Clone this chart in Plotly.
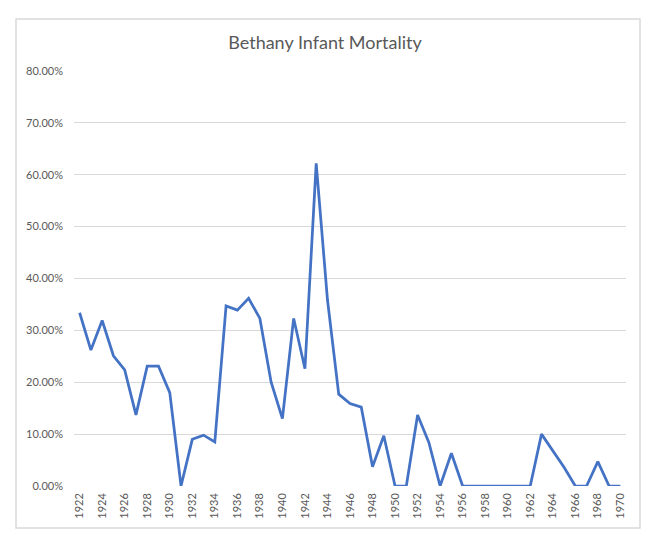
import plotly.graph_objects as go

years = list(range(1922, 1971))
mortality = [
    0.334, 0.262, 0.319, 0.251, 0.224, 0.137, 0.231, 0.231, 0.180, 0.0,
    0.090, 0.098, 0.085, 0.347, 0.339, 0.362, 0.323, 0.200, 0.130, 0.323,
    0.226, 0.622, 0.359, 0.177, 0.159, 0.152, 0.037, 0.097, 0.0, 0.0,
    0.137, 0.084, 0.0, 0.063, 0.0, 0.0, 0.0, 0.0, 0.0, 0.0,
    0.0, 0.100, 0.068, 0.036, 0.0, 0.0, 0.047, 0.0, 0.0,
]
title_text = "Bethany Infant Mortality"

FONT = "Lato, Carlito, Calibri, sans-serif"
GRAY = "#595959"

fig = go.Figure()
fig.add_trace(go.Scatter(
    x=years, y=mortality, mode="lines",
    line=dict(color="#4472C4", width=2.75),
    hoverinfo="x+y",
))

fig.update_layout(
    width=650, height=538,
    margin=dict(l=74, r=24, t=71, b=52),
    paper_bgcolor="white", plot_bgcolor="white",
    showlegend=False,
    title=dict(text=title_text, x=0.5, xanchor="center", y=1 - 43 / 538, yanchor="middle",
               font=dict(family=FONT, size=18, color=GRAY)),
    font=dict(family=FONT, size=11, color=GRAY),
    xaxis=dict(
        range=[1921.5, 1970.5], tickmode="linear", tick0=1922, dtick=2,
        tickangle=-90, showgrid=False, zeroline=False, showline=False,
        ticks="", tickfont=dict(size=11, color=GRAY), ticklabelstandoff=4,
    ),
    yaxis=dict(
        range=[0, 0.8], dtick=0.1, tickformat=".2%",
        showgrid=True, gridcolor="#D9D9D9", gridwidth=1,
        zeroline=False, showline=False, ticks="",
        tickfont=dict(size=11, color=GRAY), ticklabelstandoff=10,
    ),
    shapes=[dict(
        type="rect", xref="paper", yref="paper",
        x0=(16 - 74) / 552, x1=(640 - 74) / 552,
        y0=(486 - 528) / 415, y1=(486 - 19) / 415,
        line=dict(color="#D9D9D9", width=1.5), fillcolor="rgba(0,0,0,0)", layer="below",
    )],
)

fig.write_html("out.html")
